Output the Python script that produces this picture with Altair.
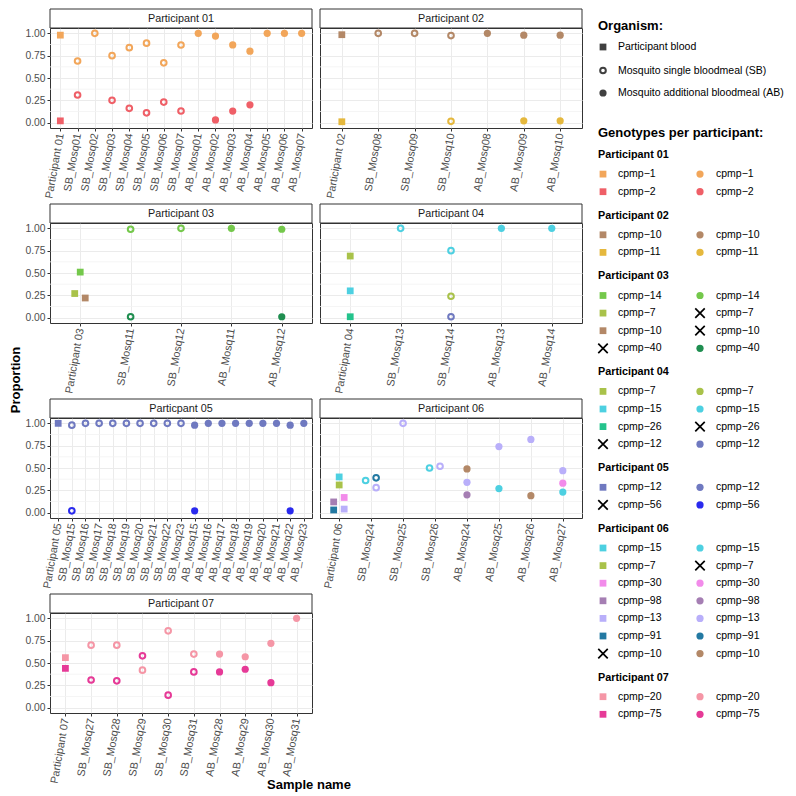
import altair as alt
import pandas as pd

FONT = "Liberation Sans"

# ---------------- data ----------------
GENOTYPES = ["cpmp-1", "cpmp-2", "cpmp-10", "cpmp-11", "cpmp-14", "cpmp-7", "cpmp-40",
             "cpmp-15", "cpmp-26", "cpmp-12", "cpmp-56", "cpmp-30", "cpmp-98", "cpmp-13",
             "cpmp-91", "cpmp-20", "cpmp-75"]
COLORS = ["#F2A65A", "#EF5F67", "#B38867", "#E5B83D", "#74C84B", "#A9C24A", "#1F8E50",
          "#4DD0E1", "#24C38C", "#6F79C0", "#2A2AEE", "#F28BEA", "#A57EB3", "#B9AFFA",
          "#2379A2", "#F596A6", "#E63A97"]

STRIP_LABELS = ["Participant 01", "Participant 02", "Participant 03", "Participant 04",
                "Particpant 05", "Participant 06", "Participant 07"]
LEGEND_HEADERS = ["Participant 01", "Participant 02", "Participant 03", "Participant 04",
                  "Participant 05", "Participant 06", "Participant 07"]

P01_SAMPLES = ["Participant 01", "SB_Mosq01", "SB_Mosq02", "SB_Mosq03", "SB_Mosq04", "SB_Mosq05",
               "SB_Mosq06", "SB_Mosq07", "AB_Mosq01", "AB_Mosq02", "AB_Mosq03", "AB_Mosq04",
               "AB_Mosq05", "AB_Mosq06", "AB_Mosq07"]
P01_POINTS = [
    ("Participant 01", "cpmp-1", 0.98), ("Participant 01", "cpmp-2", 0.02),
    ("SB_Mosq01", "cpmp-1", 0.69), ("SB_Mosq01", "cpmp-2", 0.31),
    ("SB_Mosq02", "cpmp-1", 1.00),
    ("SB_Mosq03", "cpmp-1", 0.75), ("SB_Mosq03", "cpmp-2", 0.25),
    ("SB_Mosq04", "cpmp-1", 0.84), ("SB_Mosq04", "cpmp-2", 0.16),
    ("SB_Mosq05", "cpmp-1", 0.89), ("SB_Mosq05", "cpmp-2", 0.11),
    ("SB_Mosq06", "cpmp-1", 0.67), ("SB_Mosq06", "cpmp-2", 0.23),
    ("SB_Mosq07", "cpmp-1", 0.87), ("SB_Mosq07", "cpmp-2", 0.13),
    ("AB_Mosq01", "cpmp-1", 1.00),
    ("AB_Mosq02", "cpmp-1", 0.97), ("AB_Mosq02", "cpmp-2", 0.03),
    ("AB_Mosq03", "cpmp-1", 0.87), ("AB_Mosq03", "cpmp-2", 0.13),
    ("AB_Mosq04", "cpmp-1", 0.80), ("AB_Mosq04", "cpmp-2", 0.20),
    ("AB_Mosq05", "cpmp-1", 1.00), ("AB_Mosq06", "cpmp-1", 1.00), ("AB_Mosq07", "cpmp-1", 1.00),
]
P01_GENOS = ["cpmp-1", "cpmp-2"]

P02_SAMPLES = ["Participant 02", "SB_Mosq08", "SB_Mosq09", "SB_Mosq10", "AB_Mosq08", "AB_Mosq09", "AB_Mosq10"]
P02_POINTS = [
    ("Participant 02", "cpmp-10", 0.985), ("Participant 02", "cpmp-11", 0.01),
    ("SB_Mosq08", "cpmp-10", 1.00), ("SB_Mosq09", "cpmp-10", 1.00),
    ("SB_Mosq10", "cpmp-10", 0.975), ("SB_Mosq10", "cpmp-11", 0.015),
    ("AB_Mosq08", "cpmp-10", 1.00),
    ("AB_Mosq09", "cpmp-10", 0.98), ("AB_Mosq09", "cpmp-11", 0.02),
    ("AB_Mosq10", "cpmp-10", 0.98), ("AB_Mosq10", "cpmp-11", 0.02),
]
P02_GENOS = ["cpmp-10", "cpmp-11"]

P03_SAMPLES = ["Participant 03", "SB_Mosq11", "SB_Mosq12", "AB_Mosq11", "AB_Mosq12"]
P03_POINTS = [
    ("Participant 03", "cpmp-14", 0.51), ("Participant 03", "cpmp-7", 0.27), ("Participant 03", "cpmp-10", 0.22),
    ("SB_Mosq11", "cpmp-14", 0.99), ("SB_Mosq11", "cpmp-40", 0.01),
    ("SB_Mosq12", "cpmp-14", 1.00),
    ("AB_Mosq11", "cpmp-14", 1.00),
    ("AB_Mosq12", "cpmp-14", 0.99), ("AB_Mosq12", "cpmp-40", 0.01),
]
P03_GENOS = ["cpmp-14", "cpmp-7", "cpmp-10", "cpmp-40"]
P03_DODGE = {("Participant 03", "cpmp-7"): "L", ("Participant 03", "cpmp-10"): "R"}

P04_SAMPLES = ["Participant 04", "SB_Mosq13", "SB_Mosq14", "AB_Mosq13", "AB_Mosq14"]
P04_POINTS = [
    ("Participant 04", "cpmp-7", 0.69), ("Participant 04", "cpmp-15", 0.30), ("Participant 04", "cpmp-26", 0.01),
    ("SB_Mosq13", "cpmp-15", 1.00),
    ("SB_Mosq14", "cpmp-15", 0.75), ("SB_Mosq14", "cpmp-7", 0.24), ("SB_Mosq14", "cpmp-12", 0.01),
    ("AB_Mosq13", "cpmp-15", 1.00), ("AB_Mosq14", "cpmp-15", 1.00),
]
P04_GENOS = ["cpmp-7", "cpmp-15", "cpmp-26", "cpmp-12"]

P05_SAMPLES = ["Participant 05", "SB_Mosq15", "SB_Mosq16", "SB_Mosq17", "SB_Mosq18", "SB_Mosq19",
               "SB_Mosq20", "SB_Mosq21", "SB_Mosq22", "SB_Mosq23", "AB_Mosq15", "AB_Mosq16",
               "AB_Mosq17", "AB_Mosq18", "AB_Mosq19", "AB_Mosq20", "AB_Mosq21", "AB_Mosq22", "AB_Mosq23"]
P05_POINTS = [
    ("Participant 05", "cpmp-12", 1.00),
    ("SB_Mosq15", "cpmp-12", 0.98), ("SB_Mosq15", "cpmp-56", 0.02),
    ("SB_Mosq16", "cpmp-12", 1.00), ("SB_Mosq17", "cpmp-12", 1.00), ("SB_Mosq18", "cpmp-12", 1.00),
    ("SB_Mosq19", "cpmp-12", 1.00), ("SB_Mosq20", "cpmp-12", 1.00), ("SB_Mosq21", "cpmp-12", 1.00),
    ("SB_Mosq22", "cpmp-12", 1.00), ("SB_Mosq23", "cpmp-12", 1.00),
    ("AB_Mosq15", "cpmp-12", 0.98), ("AB_Mosq15", "cpmp-56", 0.02),
    ("AB_Mosq16", "cpmp-12", 1.00), ("AB_Mosq17", "cpmp-12", 1.00), ("AB_Mosq18", "cpmp-12", 1.00),
    ("AB_Mosq19", "cpmp-12", 1.00), ("AB_Mosq20", "cpmp-12", 1.00), ("AB_Mosq21", "cpmp-12", 1.00),
    ("AB_Mosq22", "cpmp-12", 0.98), ("AB_Mosq22", "cpmp-56", 0.02),
    ("AB_Mosq23", "cpmp-12", 1.00),
]
P05_GENOS = ["cpmp-12", "cpmp-56"]

P06_SAMPLES = ["Participant 06", "SB_Mosq24", "SB_Mosq25", "SB_Mosq26", "AB_Mosq24", "AB_Mosq25",
               "AB_Mosq26", "AB_Mosq27"]
P06_POINTS = [
    ("Participant 06", "cpmp-15", 0.40), ("Participant 06", "cpmp-7", 0.31), ("Participant 06", "cpmp-30", 0.17),
    ("Participant 06", "cpmp-98", 0.12), ("Participant 06", "cpmp-13", 0.04), ("Participant 06", "cpmp-91", 0.03),
    ("SB_Mosq24", "cpmp-15", 0.36), ("SB_Mosq24", "cpmp-91", 0.39), ("SB_Mosq24", "cpmp-13", 0.28),
    ("SB_Mosq25", "cpmp-13", 1.00),
    ("SB_Mosq26", "cpmp-15", 0.50), ("SB_Mosq26", "cpmp-13", 0.52),
    ("AB_Mosq24", "cpmp-10", 0.49), ("AB_Mosq24", "cpmp-13", 0.34), ("AB_Mosq24", "cpmp-98", 0.20),
    ("AB_Mosq25", "cpmp-13", 0.74), ("AB_Mosq25", "cpmp-15", 0.27),
    ("AB_Mosq26", "cpmp-13", 0.82), ("AB_Mosq26", "cpmp-10", 0.19),
    ("AB_Mosq27", "cpmp-13", 0.47), ("AB_Mosq27", "cpmp-30", 0.33), ("AB_Mosq27", "cpmp-15", 0.23),
]
P06_GENOS = ["cpmp-15", "cpmp-7", "cpmp-30", "cpmp-98", "cpmp-13", "cpmp-91", "cpmp-10"]
P06_DODGE = {("Participant 06", "cpmp-98"): "L", ("Participant 06", "cpmp-91"): "L",
             ("Participant 06", "cpmp-30"): "R", ("Participant 06", "cpmp-13"): "R",
             ("SB_Mosq24", "cpmp-15"): "L", ("SB_Mosq24", "cpmp-91"): "R", ("SB_Mosq24", "cpmp-13"): "R",
             ("SB_Mosq26", "cpmp-15"): "L", ("SB_Mosq26", "cpmp-13"): "R"}

P07_SAMPLES = ["Participant 07", "SB_Mosq27", "SB_Mosq28", "SB_Mosq29", "SB_Mosq30", "SB_Mosq31",
               "AB_Mosq28", "AB_Mosq29", "AB_Mosq30", "AB_Mosq31"]
P07_POINTS = [
    ("Participant 07", "cpmp-20", 0.56), ("Participant 07", "cpmp-75", 0.44),
    ("SB_Mosq27", "cpmp-20", 0.70), ("SB_Mosq27", "cpmp-75", 0.31),
    ("SB_Mosq28", "cpmp-20", 0.70), ("SB_Mosq28", "cpmp-75", 0.30),
    ("SB_Mosq29", "cpmp-75", 0.58), ("SB_Mosq29", "cpmp-20", 0.42),
    ("SB_Mosq30", "cpmp-20", 0.86), ("SB_Mosq30", "cpmp-75", 0.14),
    ("SB_Mosq31", "cpmp-20", 0.60), ("SB_Mosq31", "cpmp-75", 0.40),
    ("AB_Mosq28", "cpmp-20", 0.60), ("AB_Mosq28", "cpmp-75", 0.40),
    ("AB_Mosq29", "cpmp-20", 0.57), ("AB_Mosq29", "cpmp-75", 0.43),
    ("AB_Mosq30", "cpmp-20", 0.72), ("AB_Mosq30", "cpmp-75", 0.28),
    ("AB_Mosq31", "cpmp-20", 1.00),
]
P07_GENOS = ["cpmp-20", "cpmp-75"]

Y_BREAKS = [0.0, 0.25, 0.5, 0.75, 1.0]
Y_MINOR = [0.125, 0.375, 0.625, 0.875]
Y_TITLE = "Proportion"
X_TITLE = "Sample name"

# ---------------- style ----------------
W, H, STRIP = 262, 100, 19
GRID = "#EBEBEB"
MINOR = "#F3F3F3"
BORDER = "#333333"
TXT = "#4D4D4D"
XFS, YFS = 10.8, 10.3
OFFS = {"L": -5.5, "C": 0, "R": 5}
YDOM = [-0.06, 1.06]
SIDE_H = 721


def kind_of(s):
    if s.startswith("Participant"):
        return "blood"
    return s[:2]


def panel(label, samples, points, dodge, left, xtitle=False):
    df = pd.DataFrame(points, columns=["sample", "genotype", "prop"])
    df["type"] = [kind_of(s) for s in df["sample"]]
    df["dodge"] = [dodge.get((s, g), "C") for s, g in zip(df["sample"], df["genotype"])]

    xenc = alt.X("sample:N",
                 scale=alt.Scale(type="point", domain=samples, padding=0.6),
                 axis=alt.Axis(title=None, labelAngle=-80, labelAlign="right", labelBaseline="middle",
                               labelFontSize=XFS, labelColor=TXT, labelPadding=2, labelOverlap=False,
                               labelFlush=False, labelBound=False, tickColor=BORDER, tickSize=3,
                               domain=False, grid=True, gridColor=GRID, gridWidth=1))
    if left:
        yaxis = alt.Axis(title=None, values=Y_BREAKS, format=".2f", labelFontSize=YFS,
                         labelColor=TXT, labelPadding=2, tickColor=BORDER, tickSize=3,
                         domain=False, grid=True, gridColor=GRID, gridWidth=1)
    else:
        yaxis = alt.Axis(title=None, values=Y_BREAKS, labels=False, ticks=False,
                         domain=False, grid=True, gridColor=GRID, gridWidth=1)
    yenc = alt.Y("prop:Q", scale=alt.Scale(domain=YDOM, nice=False, zero=False), axis=yaxis)
    cenc = alt.Color("genotype:N", scale=alt.Scale(domain=GENOTYPES, range=COLORS), legend=None)

    minor = alt.Chart(pd.DataFrame({"prop": Y_MINOR})).mark_rule(
        color=MINOR, strokeWidth=0.8).encode(y=yenc)

    base = alt.Chart(df).encode(x=xenc, y=yenc, color=cenc)
    layers = [minor]
    for dd, off in OFFS.items():
        for t in ["blood", "SB", "AB"]:
            sub = base.transform_filter((alt.datum.type == t) & (alt.datum.dodge == dd))
            if t == "blood":
                m = sub.mark_square(size=46, opacity=1)
            elif t == "SB":
                m = sub.mark_point(shape="circle", filled=False, size=32, strokeWidth=2, opacity=1)
            else:
                m = sub.mark_circle(size=52, opacity=1)
            layers.append(m.encode(xOffset=alt.value(off)))

    sdf = pd.DataFrame({"label": [label]})
    srect = alt.Chart(sdf).mark_rect(fill="white", stroke=BORDER, strokeWidth=1).encode(
        x=alt.value(0), x2=alt.value(W), y=alt.value(-STRIP), y2=alt.value(0))
    stext = alt.Chart(sdf).mark_text(fontSize=XFS, color="#1A1A1A").encode(
        x=alt.value(W / 2), y=alt.value(-STRIP / 2 + 0.5), text="label:N")
    layers += [srect, stext]
    if xtitle:
        tdf = pd.DataFrame({"t": [X_TITLE]})
        layers.append(alt.Chart(tdf).mark_text(fontSize=13, fontWeight="bold", color="black",
                                               baseline="middle").encode(
            x=alt.value(259), y=alt.value(H + 72), text="t:N"))
    return alt.layer(*layers).properties(width=W, height=H)


p1 = panel(STRIP_LABELS[0], P01_SAMPLES, P01_POINTS, {}, True)
p2 = panel(STRIP_LABELS[1], P02_SAMPLES, P02_POINTS, {}, False)
p3 = panel(STRIP_LABELS[2], P03_SAMPLES, P03_POINTS, P03_DODGE, True)
p4 = panel(STRIP_LABELS[3], P04_SAMPLES, P04_POINTS, {}, False)
p5 = panel(STRIP_LABELS[4], P05_SAMPLES, P05_POINTS, {}, True)
p6 = panel(STRIP_LABELS[5], P06_SAMPLES, P06_POINTS, P06_DODGE, False)
p7 = panel(STRIP_LABELS[6], P07_SAMPLES, P07_POINTS, {}, True, xtitle=True)

rows = alt.vconcat(
    alt.hconcat(p1, p2, spacing=6),
    alt.hconcat(p3, p4, spacing=6),
    alt.hconcat(p5, p6, spacing=6),
    alt.hconcat(p7, spacing=6),
    spacing=3,
)

# y-title column (coordinates measured from the plot origin of the first row)
YW = 14
ylab = alt.layer(
    alt.Chart(pd.DataFrame({"a": [0]})).mark_rect(opacity=0).encode(
        x=alt.value(0), x2=alt.value(YW), y=alt.value(-STRIP), y2=alt.value(SIDE_H)),
    alt.Chart(pd.DataFrame({"t": [Y_TITLE]})).mark_text(
        fontSize=13, fontWeight="bold", color="black", angle=270, baseline="middle").encode(
        x=alt.value(7), y=alt.value(352), text="t:N"),
).properties(width=YW, height=SIDE_H, view=alt.ViewConfig(stroke="transparent"))

# ---------------- legend ----------------
LW = 200
rows_leg = []


def add(kind, x, y, label="", geno=""):
    # y measured from the top of the first strip; shifted to the plot origin
    rows_leg.append({"kind": kind, "lx": x, "ly": y - STRIP, "label": label, "genotype": geno})


HX, MX1, TX1, MX2, TX2 = 14, 19, 34, 116, 132
add("title", HX, 16.5, "Organism:")
add("o_sq", MX1, 38)
add("text", TX1, 38, "Participant blood")
add("o_open", MX1, 61.5)
add("text", TX1, 61.5, "Mosquito single bloodmeal (SB)")
add("o_fill", MX1, 84)
add("text", TX1, 84, "Mosquito additional bloodmeal (AB)")
add("title", HX, 123.5, "Genotypes per participant:")

groups = [(LEGEND_HEADERS[0], P01_GENOS, P01_POINTS), (LEGEND_HEADERS[1], P02_GENOS, P02_POINTS),
          (LEGEND_HEADERS[2], P03_GENOS, P03_POINTS), (LEGEND_HEADERS[3], P04_GENOS, P04_POINTS),
          (LEGEND_HEADERS[4], P05_GENOS, P05_POINTS), (LEGEND_HEADERS[5], P06_GENOS, P06_POINTS),
          (LEGEND_HEADERS[6], P07_GENOS, P07_POINTS)]
y = 146
for head, genos, pts in groups:
    add("phead", HX, y, head)
    blood = {g for s, g, v in pts if kind_of(s) == "blood"}
    mosq = {g for s, g, v in pts if kind_of(s) != "blood"}
    yy = y + 19.1
    for g in genos:
        lab = g.replace("-", "\u2212")
        add("sq" if g in blood else "x", MX1, yy, geno=g)
        add("text", TX1, yy, lab)
        add("ci" if g in mosq else "x", MX2, yy, geno=g)
        add("text", TX2, yy, lab)
        yy += 17.6
    y = yy - 17.6 + 24

ldf = pd.DataFrame(rows_leg)
lx = alt.X("lx:Q", scale=alt.Scale(domain=[0, LW], nice=False, zero=False), axis=None)
ly = alt.Y("ly:Q", scale=alt.Scale(domain=[SIDE_H, 0], nice=False, zero=False), axis=None)
lcol = alt.Color("genotype:N", scale=alt.Scale(domain=GENOTYPES, range=COLORS), legend=None)
lbase = alt.Chart(ldf).encode(x=lx, y=ly)
DARK = "#404040"
X_SHAPE = "M-1,-1L1,1M-1,1L1,-1"
LFS = 10.5

leg = alt.layer(
    alt.Chart(pd.DataFrame({"a": [0]})).mark_rect(opacity=0).encode(
        x=alt.value(0), x2=alt.value(LW), y=alt.value(-STRIP), y2=alt.value(SIDE_H)),
    lbase.transform_filter(alt.datum.kind == "title").mark_text(
        align="left", baseline="middle", fontSize=13, fontWeight="bold", color="black").encode(text="label:N"),
    lbase.transform_filter(alt.datum.kind == "phead").mark_text(
        align="left", baseline="middle", fontSize=10.8, fontWeight="bold", color="black").encode(text="label:N"),
    lbase.transform_filter(alt.datum.kind == "text").mark_text(
        align="left", baseline="middle", fontSize=LFS, color="black").encode(text="label:N"),
    lbase.transform_filter(alt.datum.kind == "o_sq").mark_square(size=46, color=DARK, opacity=1),
    lbase.transform_filter(alt.datum.kind == "o_open").mark_point(
        shape="circle", filled=False, size=32, strokeWidth=2, color=DARK, opacity=1),
    lbase.transform_filter(alt.datum.kind == "o_fill").mark_circle(size=52, color=DARK, opacity=1),
    lbase.transform_filter(alt.datum.kind == "sq").mark_square(size=46, opacity=1).encode(color=lcol),
    lbase.transform_filter(alt.datum.kind == "ci").mark_circle(size=52, opacity=1).encode(color=lcol),
    lbase.transform_filter(alt.datum.kind == "x").mark_point(
        shape=X_SHAPE, filled=False, size=90, strokeWidth=1.7, color="black", opacity=1),
).properties(width=LW, height=SIDE_H, view=alt.ViewConfig(stroke="transparent"))

chart = alt.hconcat(ylab, rows, leg, spacing=0).properties(padding=0).configure(font=FONT).configure_view(
    stroke=BORDER, strokeWidth=1).configure_text(font=FONT)

chart.save("out.html", embed_options={"renderer": "svg", "actions": False})
